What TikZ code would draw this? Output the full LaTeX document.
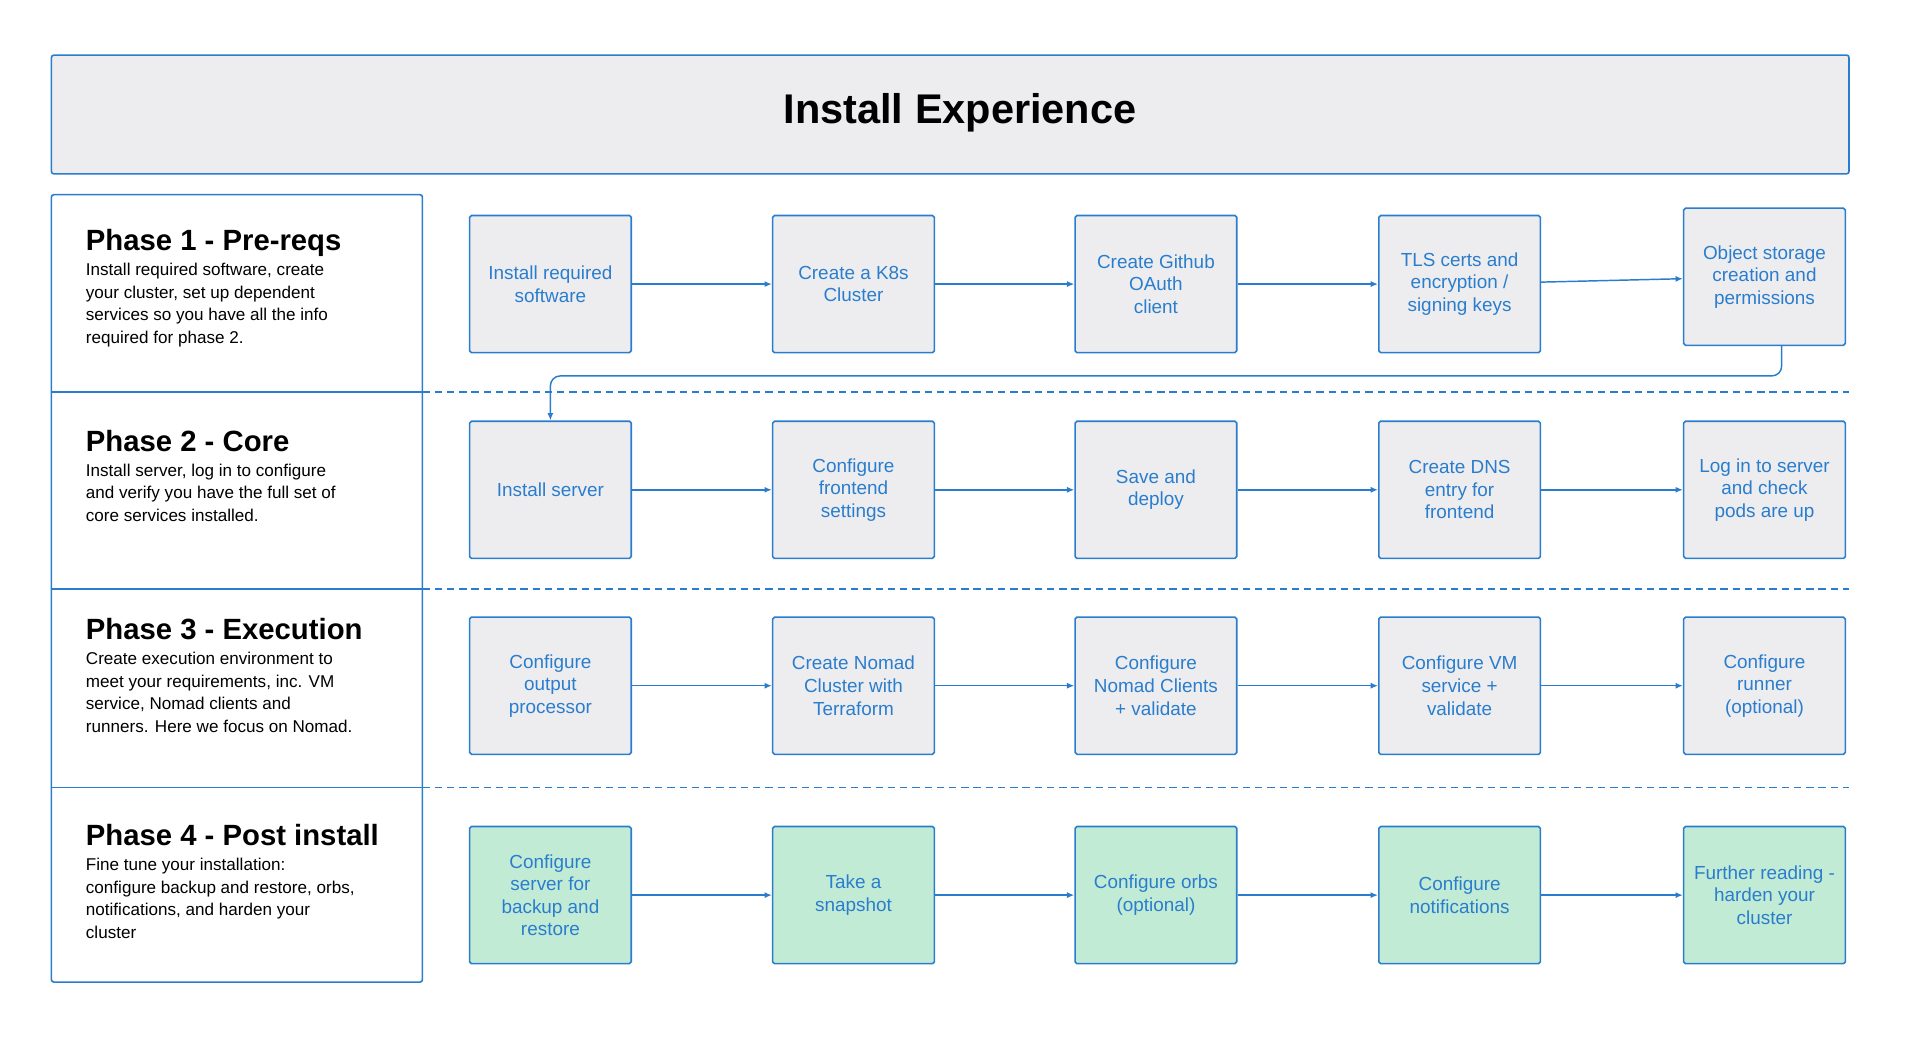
\documentclass[tikz,border=0pt]{standalone}
\usepackage{fontspec}
\setmainfont{Liberation Sans}
\usetikzlibrary{arrows.meta}
\definecolor{edge}{HTML}{2A7DCC}
\definecolor{boxgray}{HTML}{EDEDF0}
\definecolor{boxgreen}{HTML}{C2EBD6}

\tikzset{
  task/.style={draw=edge, line width=1.3pt, rounded corners=1.5pt, fill=boxgray,
    minimum width=132bp, minimum height=112bp, align=center,
    text=edge, font=\fontsize{15.5}{18.5}\selectfont, inner sep=0pt},
  post/.style={task, fill=boxgreen},
  flow/.style={draw=edge, line width=1.2pt, -{Latex[length=6bp, width=5bp]}},
  phase/.style={anchor=north west, align=left, inner sep=0pt,
    font=\fontsize{14}{18.5}\selectfont},
  divider/.style={draw=edge, line width=1.2pt, dash pattern=on 6bp off 4bp}
}

\begin{document}
\begin{tikzpicture}[x=1bp, y=-1bp]
  \useasboundingbox (0, 0) rectangle (1568, 850);

  % title
  \draw [draw=edge, fill=boxgray, line width=1.3pt, rounded corners=2pt] (42, 45) rectangle (1510, 142);
  \node (title) at (784, 92) {\fontsize{34}{40}\selectfont\bfseries Install Experience};

  % phase column
  \draw [draw=edge, line width=1.3pt, rounded corners=2pt] (42, 159) rectangle (345, 802);
  \foreach \y in {320, 481, 643} {
    \draw [draw=edge, line width=1.3pt] (42, \y) -- (345, \y);
    \draw [divider] (345, \y) -- (1510, \y);
  }

  \node [phase] (p1) at (70, 187) {{\fontsize{24}{28}\selectfont\bfseries Phase 1 - Pre-reqs}\\[2bp]
    Install required software, create\\ your cluster, set up dependent\\ services so you have all the info\\ required for phase 2.};
  \node [phase] (p2) at (70, 351) {{\fontsize{24}{28}\selectfont\bfseries Phase 2 - Core}\\[2bp]
    Install server, log in to configure\\ and verify you have the full set of\\ core services installed.};
  \node [phase] (p3) at (70, 505) {{\fontsize{24}{28}\selectfont\bfseries Phase 3 - Execution}\\[2bp]
    Create execution environment to\\ meet your requirements, inc. VM\\ service, Nomad clients and\\ runners. Here we focus on Nomad.};
  \node [phase] (p4) at (70, 673) {{\fontsize{24}{28}\selectfont\bfseries Phase 4 - Post install}\\[2bp]
    Fine tune your installation:\\ configure backup and restore, orbs,\\ notifications, and harden your\\ cluster};

  % phase 1
  \node [task] (a1) at (449.5, 232) {Install required\\ software};
  \node [task] (a2) at (697, 232) {Create a K8s\\ Cluster};
  \node [task] (a3) at (944, 232) {Create Github\\ OAuth\\ client};
  \node [task] (a4) at (1192, 232) {TLS certs and\\ encryption /\\ signing keys};
  \node [task] (a5) at (1441, 226) {Object storage\\ creation and\\ permissions};

  % phase 2
  \node [task] (b1) at (449.5, 400) {Install server};
  \node [task] (b2) at (697, 400) {Configure\\ frontend\\ settings};
  \node [task] (b3) at (944, 400) {Save and\\ deploy};
  \node [task] (b4) at (1192, 400) {Create DNS\\ entry for\\ frontend};
  \node [task] (b5) at (1441, 400) {Log in to server\\ and check\\ pods are up};

  % phase 3
  \node [task] (c1) at (449.5, 560) {Configure\\ output\\ processor};
  \node [task] (c2) at (697, 560) {Create Nomad\\ Cluster with\\ Terraform};
  \node [task] (c3) at (944, 560) {Configure\\ Nomad Clients\\ + validate};
  \node [task] (c4) at (1192, 560) {Configure VM\\ service +\\ validate};
  \node [task] (c5) at (1441, 560) {Configure\\ runner\\ (optional)};

  % phase 4
  \node [post] (d1) at (449.5, 731) {Configure\\ server for\\ backup and\\ restore};
  \node [post] (d2) at (697, 731) {Take a\\ snapshot};
  \node [post] (d3) at (944, 731) {Configure orbs\\ (optional)};
  \node [post] (d4) at (1192, 731) {Configure\\ notifications};
  \node [post] (d5) at (1441, 731) {Further reading -\\ harden your\\ cluster};

  \foreach \r in {a, b, c, d} {
    \draw [flow] (\r1) -- (\r2);
    \draw [flow] (\r2) -- (\r3);
    \draw [flow] (\r3) -- (\r4);
    \draw [flow] (\r4) -- (\r5);
  }

  \coordinate (turn) at (1455, 307);
  \draw [flow, rounded corners=8bp] (a5.south -| turn) -- (turn) -- (turn -| b1) -- (b1.north);
\end{tikzpicture}
\end{document}
